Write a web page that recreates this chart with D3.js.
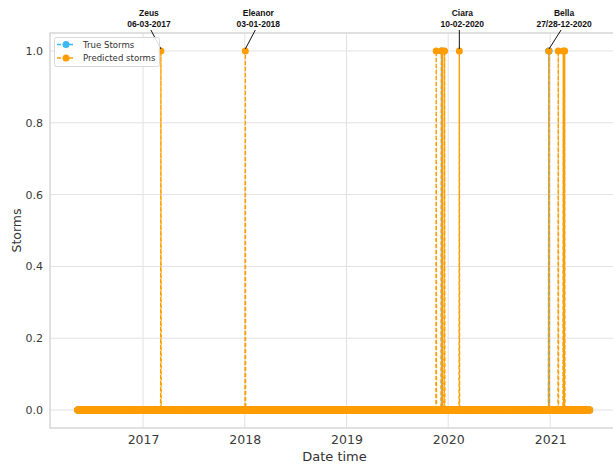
<!DOCTYPE html>
<html>
<head>
<meta charset="utf-8">
<script src="https://cdn.jsdelivr.net/npm/d3@7"></script>
<style>
  html, body { margin: 0; padding: 0; background: #fff; }
  svg { display: block; }
</style>
</head>
<body>
<svg id="chart" width="613" height="465"></svg>
<script>
// Observation period (daily records)
const periodStart = "2016-05-11";
const periodEnd = "2021-05-23";

// Days flagged as storms by the records
const trueStormDays = ["2019-12-08", "2020-12-27", "2020-12-28"];

// Days flagged as storms by the model
const predictedStormDays = ["2017-03-06", "2018-01-03", "2019-11-19", "2019-12-08", "2019-12-12", "2019-12-19",
  "2020-02-10", "2020-12-27", "2021-01-30", "2021-02-17", "2021-02-22"];

// Named storms called out on the chart
const stormNames = ["Zeus", "Eleanor", "Ciara", "Bella"];
const stormDateLabels = ["06-03-2017", "03-01-2018", "10-02-2020", "27/28-12-2020"];
const stormDays = ["2017-03-06", "2018-01-03", "2020-02-10", "2020-12-28"];

const yTicks = [0.0, 0.2, 0.4, 0.6, 0.8, 1.0];
const xTickYears = [2017, 2018, 2019, 2020, 2021];

// label offsets (dx of text centre from the point)
const labelDx = [-12, 13, 3, 15];

(function () {
  const parse = d3.utcParse("%Y-%m-%d");
  const fmt = d3.utcFormat("%Y-%m-%d");
  const days = d3.utcDay.range(parse(periodStart), d3.utcDay.offset(parse(periodEnd), 1));
  const trueSet = new Set(trueStormDays);
  const predSet = new Set(predictedStormDays);
  const trueSeries = days.map(d => ({ date: d, v: trueSet.has(fmt(d)) ? 1 : 0 }));
  const predSeries = days.map(d => ({ date: d, v: predSet.has(fmt(d)) ? 1 : 0 }));

  const svg = d3.select("#chart");
  const mLeft = 50, mRight = 619, mTop = 33, mBottom = 428;

  const x = d3.scaleUtc()
    .domain([parse("2016-02-02"), parse("2021-09-05")])
    .range([mLeft, mRight]);
  const y = d3.scaleLinear().domain([-0.05, 1.05]).range([mBottom, mTop]);

  const gridColor = "#e2e2e2";
  const spineColor = "#d6d6d6";
  const blue = "#3cb8f2";
  const orange = "#ff9d00";

  // grid
  const grid = svg.append("g");
  grid.selectAll("line.gy").data(yTicks).join("line")
    .attr("x1", mLeft).attr("x2", mRight)
    .attr("y1", d => y(d)).attr("y2", d => y(d))
    .attr("stroke", gridColor).attr("stroke-width", 1);
  grid.selectAll("line.gx").data(xTickYears).join("line")
    .attr("x1", d => x(Date.UTC(d, 0, 1))).attr("x2", d => x(Date.UTC(d, 0, 1)))
    .attr("y1", mTop).attr("y2", mBottom)
    .attr("stroke", gridColor).attr("stroke-width", 1);

  // spines
  svg.append("rect")
    .attr("x", mLeft).attr("y", mTop).attr("width", mRight - mLeft).attr("height", mBottom - mTop)
    .attr("fill", "none").attr("stroke", spineColor).attr("stroke-width", 1.5);

  // axes text
  const yAxis = d3.axisLeft(y).tickValues(yTicks).tickFormat(d3.format(".1f")).tickSize(0).tickPadding(7);
  const gy = svg.append("g").attr("transform", `translate(${mLeft},0)`).call(yAxis);
  gy.select(".domain").remove();
  gy.selectAll("text").attr("font-family", "DejaVu Sans").attr("font-size", 11).attr("fill", "#3a3a3a");

  const xAxis = d3.axisBottom(x).tickValues(xTickYears.map(yr => new Date(Date.UTC(yr, 0, 1))))
    .tickFormat(d3.utcFormat("%Y")).tickSize(0).tickPadding(7);
  const gx = svg.append("g").attr("transform", `translate(0,${mBottom})`).call(xAxis);
  gx.select(".domain").remove();
  gx.selectAll("text").attr("font-family", "DejaVu Sans").attr("font-size", 12.5).attr("fill", "#3a3a3a");

  svg.append("text").attr("x", (mLeft + mRight) / 2).attr("y", 461)
    .attr("text-anchor", "middle").attr("font-family", "DejaVu Sans").attr("font-size", 13)
    .attr("fill", "#333").text("Date time");
  svg.append("text").attr("transform", `translate(21,${(mTop + mBottom) / 2}) rotate(-90)`)
    .attr("text-anchor", "middle").attr("font-family", "DejaVu Sans").attr("font-size", 12.5)
    .attr("fill", "#333").text("Storms");

  // series
  const line = d3.line().x(d => x(d.date)).y(d => y(d.v));
  function drawSeries(series, color) {
    const g = svg.append("g");
    g.append("path").datum(series)
      .attr("d", line).attr("fill", "none")
      .attr("stroke", color).attr("stroke-width", 1.4).attr("stroke-dasharray", "4,2");
    g.selectAll("circle").data(series).join("circle")
      .attr("cx", d => x(d.date)).attr("cy", d => y(d.v)).attr("r", 3.5)
      .attr("fill", color);
  }
  drawSeries(trueSeries, blue);
  drawSeries(predSeries, orange);

  // annotations
  const ann = svg.append("g").attr("font-family", "Liberation Sans").attr("font-weight", "bold")
    .attr("font-size", 8.5).attr("fill", "#111").attr("text-anchor", "middle");
  stormNames.forEach((name, i) => {
    const px = x(parse(stormDays[i])), py = y(1);
    const tx = px + labelDx[i];
    ann.append("text").attr("x", tx).attr("y", 16).text(name);
    ann.append("text").attr("x", tx).attr("y", 27).text(stormDateLabels[i]);
    ann.append("line").attr("x1", tx + (labelDx[i] < 0 ? 2 : -3)).attr("y1", 30)
      .attr("x2", px).attr("y2", py - 2).attr("stroke", "#111").attr("stroke-width", 1);
  });

  // legend
  const lg = svg.append("g");
  lg.append("rect").attr("x", 54.5).attr("y", 37.5).attr("width", 105).attr("height", 29).attr("rx", 2)
    .attr("fill", "#fff").attr("fill-opacity", 0.85).attr("stroke", "#d8d8d8");
  [["True Storms", blue], ["Predicted storms", orange]].forEach(([label, color], i) => {
    const ly = 44.5 + i * 13.5;
    lg.append("line").attr("x1", 57).attr("x2", 75).attr("y1", ly).attr("y2", ly)
      .attr("stroke", color).attr("stroke-width", 1.3).attr("stroke-dasharray", "4,2");
    lg.append("circle").attr("cx", 66).attr("cy", ly).attr("r", 3.5).attr("fill", color);
    lg.append("text").attr("x", 83).attr("y", ly).attr("dy", "0.35em")
      .attr("font-family", "DejaVu Sans").attr("font-size", 8.6).attr("fill", "#333").text(label);
  });
})();
</script>
</body>
</html>
